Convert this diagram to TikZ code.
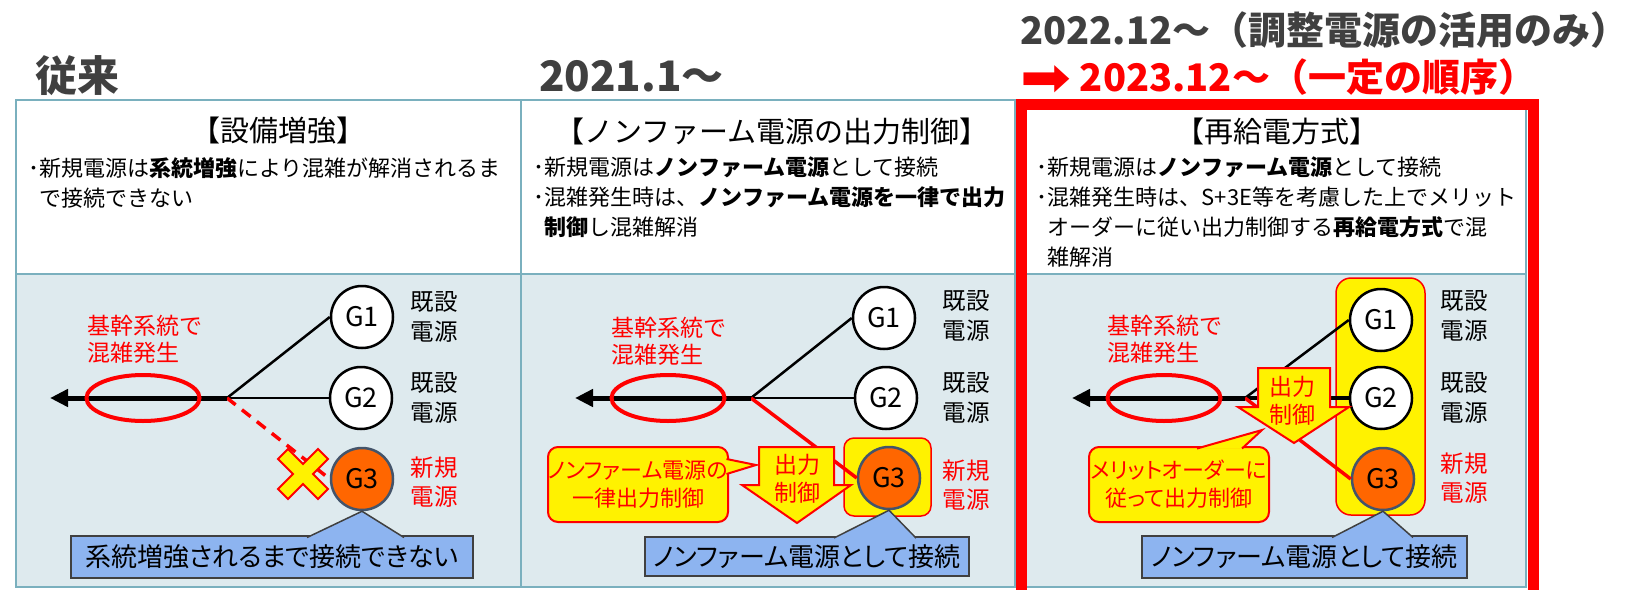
\documentclass[tikz,border=0pt]{standalone}
\usepackage{fontspec}
\setmainfont{Noto Sans CJK JP}
\newfontfamily\dvsans{DejaVu Sans}
\newcommand{\propkana}{\addfontfeatures{RawFeature=+palt}}
\usetikzlibrary{arrows.meta,shapes.geometric}
\definecolor{tblline}{RGB}{122,176,190}
\definecolor{lowfill}{RGB}{222,234,238}
\definecolor{titlegray}{RGB}{64,64,64}
\definecolor{gorange}{RGB}{255,102,0}
\definecolor{gedge}{RGB}{68,84,106}
\definecolor{notefill}{RGB}{141,180,240}
\definecolor{noteedge}{RGB}{64,64,64}
\tikzset{
    yeartitle/.style = { anchor=base west, inner sep=0pt, titlegray, font=\fontsize{42pt}{46pt}\selectfont\bfseries },
     newtitle/.style = { yeartitle, font=\fontsize{38pt}{42pt}\selectfont\bfseries },
    panelhead/.style = { inner sep=0pt, font=\fontsize{29pt}{32pt}\selectfont },
      bullets/.style = { anchor=north west, inner sep=0pt, align=left, font=\fontsize{22pt}{30pt}\selectfont },
       redtag/.style = { anchor=north west, inner sep=0pt, align=left, text=red, font=\fontsize{23pt}{27pt}\selectfont },
       gentag/.style = { inner sep=0pt, align=center, font=\fontsize{23.5pt}{29.5pt}\selectfont },
          gen/.style = { circle, draw=black, fill=white, line width=2.5pt, minimum size=62pt, inner sep=0pt, font=\fontsize{27pt}{30pt}\selectfont },
       newgen/.style = { gen, draw=gedge, fill=gorange },
          jam/.style = { ellipse, draw=red, line width=4pt, minimum width=113pt, minimum height=46pt, inner sep=0pt },
          bus/.style = { line width=5pt, -{Triangle[length=18pt,width=17pt]} },
       feeder/.style = { line width=2.5pt },
      cutfeed/.style = { red, line width=3.5pt, dash pattern=on 11pt off 8pt },
      ctlfeed/.style = { red, line width=3.5pt },
      blocked/.style = { draw=red, fill=yellow, line width=2pt },
       hilite/.style = { draw=red, fill=yellow, line width=1.5pt, rounded corners=10pt },
     ctlarrow/.style = { draw=red, fill=yellow, line width=2pt },
      ctltext/.style = { inner sep=0pt, align=center, text=red, font=\fontsize{23pt}{28pt}\selectfont },
     pointbox/.style = { draw=red, fill=yellow, line width=2pt, rounded corners=10pt, minimum width=180pt, minimum height=75pt, inner sep=0pt, align=center, text=red, font=\fontsize{22pt}{28pt}\selectfont\propkana },
     pointtip/.style = { draw=red, fill=yellow, line width=2pt },
      notebox/.style = { draw=noteedge, fill=notefill, line width=1.5pt, inner sep=0pt, font=\fontsize{26pt}{30pt}\selectfont\propkana },
      notetip/.style = { draw=noteedge, fill=notefill, line width=1.5pt },
   focusframe/.style = { red, line width=11pt },
     tblframe/.style = { tblline, line width=2pt }
}

\begin{document}
\begin{tikzpicture}[x=1pt, y=-1pt]
  \useasboundingbox (0,0) rectangle (1632,589);

  % titles
  \node (old)  at (35,91)   [yeartitle] {従来};
  \node (fy21) at (539,91)  [yeartitle] {2021.1～};
  \node (fy22) at (1020,44) [newtitle] {2022.12～（調整電源の活用のみ）};
  \node (fy23) at (1020,91) [newtitle, red] {\raisebox{-5pt}{\scalebox{1.6}[1.45]{\dvsans\mdseries ➡}} 2023.12～（一定の順序）};

  % table
  \fill[lowfill] (16,274) rectangle (1526,587);
  \draw[tblframe] (16,100) rectangle (1526,587);
  \draw[tblframe] (16,274) -- (1526,274);
  \draw[tblframe] (521,100) -- (521,587);
  \draw[tblframe] (1015,100) -- (1015,587);

  \node (head1) at (278,131)  [panelhead] {【設備増強】};
  \node (head2) at (772,131)  [panelhead] {【ノンファーム電源の出力制御】};
  \node (head3) at (1277,131) [panelhead] {【再給電方式】};

  \node (text1) at (28,157) [bullets] {･新規電源は\textbf{系統増強}により混雑が解消されるま\\\hphantom{･}で接続できない};
  \node (text2) at (533.5,157) [bullets] {･新規電源は\textbf{ノンファーム電源}として接続\\･混雑発生時は、\textbf{ノンファーム電源を一律で出力}\\\hphantom{･}\textbf{制御}し混雑解消};
  \node (text3) at (1036.5,157) [bullets] {･新規電源は\textbf{ノンファーム電源}として接続\\･混雑発生時は、S+3E等を考慮した上でメリット\\\hphantom{･}オーダーに従い出力制御する\textbf{再給電方式}で混\\\hphantom{･}雑解消};

  % panel 1
  \coordinate (j1) at (227,398);
  \coordinate (end1) at (50,398);
  \node (g1a) at (362,317) [gen] {G1};
  \node (g2a) at (361,398) [gen] {G2};
  \node (g3a) at (362,479) [newgen] {G3};
  \draw[feeder] (j1) -- (g1a.west);
  \draw[feeder, line width=2pt] (j1) -- (g2a.west);
  \draw[cutfeed] (j1) -- (g3a.west);
  \draw[bus] (j1) -- (end1);
  \node (jam1) at (143,398) [jam] {};
  \node (tag1) at (87,315) [redtag] {基幹系統で\\混雑発生};
  \draw[blocked] (303,474) +(-25,-15) -- +(-15,-25) -- +(0,-10) -- +(15,-25) -- +(25,-15) -- +(10,0)
    -- +(25,15) -- +(15,25) -- +(0,10) -- +(-15,25) -- +(-25,15) -- +(-10,0) -- cycle;
  \node (lab1a) at (434,317) [gentag] {既設\\電源};
  \node (lab2a) at (434,398) [gentag] {既設\\電源};
  \node (lab3a) at (434,482) [gentag, text=red] {新規\\電源};
  \node (note1) at (272,557) [notebox, minimum width=402pt, minimum height=42pt] {系統増強されるまで接続できない};
  \filldraw[notetip] (307,537.5) -- (g3a.south) -- (404,537.5);

  % panel 2
  \coordinate (j2) at (751,398);
  \coordinate (end2) at (575,398);
  \coordinate (aim2) at (756,465);
  \draw[hilite] (844,438) rectangle (931,516);
  \node (g1b) at (884,318) [gen] {G1};
  \node (g2b) at (886,398) [gen] {G2};
  \node (g3b) at (889,478) [newgen] {G3};
  \draw[feeder] (j2) -- (g1b.west);
  \draw[feeder, line width=2pt] (j2) -- (g2b.west);
  \draw[ctlfeed] (j2) -- (g3b.west);
  \draw[bus] (j2) -- (end2);
  \node (jam2) at (668,398) [jam] {};
  \node (tag2) at (611,317) [redtag] {基幹系統で\\混雑発生};
  \draw[ctlarrow] (759,447) -- (834,447) -- (834,485) -- (851,485) -- (797,523) -- (742,485) -- (759,485) -- cycle;
  \node (ctl2) at (797,479) [ctltext] {出力\\制御};
  \node (why2) at (638,484.5) [pointbox] {ノンファーム電源の\\一律出力制御};
  \filldraw[pointtip] (726.5,459) -- (aim2) -- (726.5,474);
  \node (lab1b) at (966,316) [gentag] {既設\\電源};
  \node (lab2b) at (966,398) [gentag] {既設\\電源};
  \node (lab3b) at (966,485) [gentag, text=red] {新規\\電源};
  \node (note2) at (807,556.5) [notebox, minimum width=324pt, minimum height=39pt] {ノンファーム電源として接続};
  \filldraw[notetip] (834,538) -- (g3b.south) -- (916,538);

  % panel 3
  \coordinate (j3) at (1245,398);
  \coordinate (end3) at (1072,398);
  \coordinate (aim3) at (1262,430);
  \draw[hilite, rounded corners=15pt] (1336,278) rectangle (1425,515);
  \node (g1c) at (1381,320) [gen] {G1};
  \node (g2c) at (1381,398) [gen] {G2};
  \node (g3c) at (1383,479) [newgen] {G3};
  \draw[feeder] (j3) -- (g1c.west);
  \draw[feeder, line width=4pt] (j3) -- (g2c.west);
  \draw[ctlfeed] (j3) -- (g3c.west);
  \draw[bus] (j3) -- (end3);
  \node (jam3) at (1164,398) [jam] {};
  \node (tag3) at (1107,315) [redtag] {基幹系統で\\混雑発生};
  \draw[ctlarrow] (1258,368) -- (1330,368) -- (1330,407) -- (1349,407) -- (1294,443) -- (1238,407) -- (1258,407) -- cycle;
  \node (ctl3) at (1292,401) [ctltext] {出力\\制御};
  \node (why3) at (1179,484.5) [pointbox] {メリットオーダーに\\従って出力制御};
  \filldraw[pointtip] (1197,448.5) -- (aim3) -- (1242,448.5);
  \node (lab1c) at (1464,316) [gentag] {既設\\電源};
  \node (lab2c) at (1464,398) [gentag] {既設\\電源};
  \node (lab3c) at (1464,478) [gentag, text=red] {新規\\電源};
  \node (note3) at (1304.5,557) [notebox, minimum width=325pt, minimum height=42pt] {ノンファーム電源として接続};
  \filldraw[notetip] (1332,537.5) -- (g3c.south) -- (1413,537.5);

  % focus frame
  \draw[focusframe] (1021.5,104) rectangle (1533,595);
\end{tikzpicture}
\end{document}
